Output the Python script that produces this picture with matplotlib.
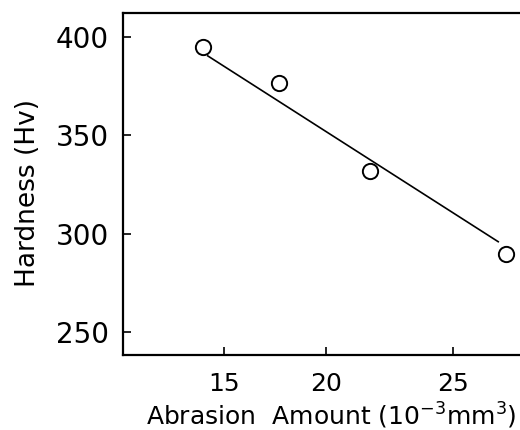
import numpy as np
import matplotlib
matplotlib.use("Agg")
import matplotlib.pyplot as plt

# values
abrasion = [13.96, 17.72, 21.75, 27.10]      # 10^-3 mm^3
hardness = [394.9, 376.6, 332.0, 289.8]      # Hv
fit_x = [14.21, 26.79]
fit_y = [390.4, 295.9]

x_ticks = [15, 20, 25]
y_ticks = [250, 300, 350, 400]
# the printed x axis is not evenly spaced: the 20-25 span is drawn wider
x_stretch = 1.2475


def fwd(x):
    x = np.asarray(x, dtype=float)
    return np.where(x < 20, (x - 15) / 5, 1 + (x - 20) / 5 * x_stretch)


def inv(u):
    u = np.asarray(u, dtype=float)
    return np.where(u < 1, 15 + 5 * u, 20 + (u - 1) * 5 / x_stretch)


plt.rcParams['font.family'] = ['DejaVu Sans']
plt.rcParams['mathtext.default'] = 'regular'

fig = plt.figure(figsize=(5.2, 4.3), dpi=100)
ax = fig.add_axes([0.2365, 0.1744, 0.77, 0.7954])

ax.set_xscale('function', functions=(fwd, inv))

ax.plot(fit_x, fit_y, color='black', lw=1.2, zorder=2)
ax.plot(abrasion, hardness, 'o', ms=11, mfc='white', mec='black', mew=1.4, zorder=3)

ax.set_xlim(10.05, 27.78)
ax.set_ylim(238.3, 412.2)
ax.set_xticks(x_ticks)
ax.set_yticks(y_ticks)
ax.set_xticklabels([str(v) for v in x_ticks])
ax.set_yticklabels([str(v) for v in y_ticks])
ax.minorticks_off()

ax.tick_params(direction='in', length=6, width=1.2)
ax.tick_params(axis='y', pad=10, labelsize=20)
ax.tick_params(axis='x', pad=12, labelsize=18)

for s in ['left', 'bottom', 'top']:
    ax.spines[s].set_linewidth(1.6)
ax.spines['right'].set_visible(False)

ax.set_ylabel('Hardness (Hv)', fontsize=19)
ax.yaxis.set_label_coords(-0.205, 0.474)
ax.set_xlabel('Abrasion  Amount (10$^{-3}$mm$^{3}$)', fontsize=18)
ax.xaxis.set_label_coords(0.52, -0.135)

fig.savefig('out.png', dpi=100)
